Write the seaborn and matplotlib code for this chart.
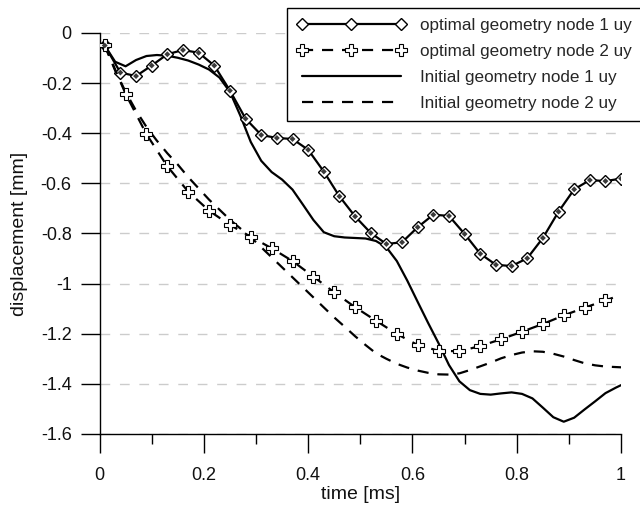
import matplotlib
matplotlib.use("Agg")
import matplotlib.pyplot as plt
import seaborn as sns
from matplotlib.ticker import MultipleLocator, FormatStrFormatter

# time axis [ms]
time_a = [0.01, 0.04, 0.07, 0.10, 0.13, 0.16, 0.19, 0.22, 0.25, 0.28, 0.31, 0.34,
          0.37, 0.40, 0.43, 0.46, 0.49, 0.52, 0.55, 0.58, 0.61, 0.64, 0.67, 0.70,
          0.73, 0.76, 0.79, 0.82, 0.85, 0.88, 0.91, 0.94, 0.97, 1.00]
time_b = [0.01, 0.05, 0.09, 0.13, 0.17, 0.21, 0.25, 0.29, 0.33, 0.37, 0.41, 0.45,
          0.49, 0.53, 0.57, 0.61, 0.65, 0.69, 0.73, 0.77, 0.81, 0.85, 0.89, 0.93,
          0.97, 1.00]
time_c = [0.01, 0.03, 0.05, 0.07, 0.09, 0.11, 0.13, 0.15, 0.17, 0.19, 0.21, 0.23,
          0.25, 0.27, 0.29, 0.31, 0.33, 0.35, 0.37, 0.39, 0.41, 0.43, 0.45, 0.47,
          0.49, 0.51, 0.53, 0.55, 0.57, 0.59, 0.61, 0.63, 0.65, 0.67, 0.69, 0.71,
          0.73, 0.75, 0.77, 0.79, 0.81, 0.83, 0.85, 0.87, 0.89, 0.91, 0.93, 0.95,
          0.97, 0.99, 1.00]

# displacement uy [mm]
opt_node1 = [-0.050, -0.158, -0.172, -0.130, -0.085, -0.068, -0.079, -0.130, -0.230,
             -0.342, -0.407, -0.419, -0.423, -0.466, -0.553, -0.652, -0.732, -0.798,
             -0.842, -0.835, -0.775, -0.725, -0.730, -0.802, -0.881, -0.925, -0.930,
             -0.899, -0.818, -0.713, -0.624, -0.587, -0.591, -0.581]
opt_node2 = [-0.050, -0.243, -0.404, -0.532, -0.633, -0.709, -0.766, -0.813, -0.859,
             -0.910, -0.972, -1.035, -1.094, -1.148, -1.201, -1.245, -1.268, -1.270,
             -1.249, -1.222, -1.192, -1.161, -1.127, -1.096, -1.067, -1.045]
init_node1 = [-0.050, -0.115, -0.133, -0.108, -0.092, -0.088, -0.091, -0.099, -0.110,
              -0.126, -0.146, -0.178, -0.235, -0.330, -0.435, -0.510, -0.555, -0.585,
              -0.625, -0.685, -0.746, -0.795, -0.811, -0.816, -0.818, -0.820, -0.830,
              -0.855, -0.910, -0.988, -1.073, -1.157, -1.238, -1.325, -1.390, -1.425,
              -1.440, -1.443, -1.438, -1.434, -1.440, -1.458, -1.495, -1.533, -1.551,
              -1.535, -1.502, -1.470, -1.437, -1.415, -1.405]
init_node2 = [-0.050, -0.150, -0.235, -0.310, -0.375, -0.430, -0.480, -0.525, -0.575,
              -0.620, -0.665, -0.705, -0.745, -0.780, -0.815, -0.855, -0.895, -0.935,
              -0.975, -1.015, -1.055, -1.095, -1.135, -1.172, -1.210, -1.245, -1.278,
              -1.300, -1.320, -1.335, -1.347, -1.356, -1.362, -1.363, -1.358, -1.345,
              -1.330, -1.315, -1.298, -1.285, -1.275, -1.270, -1.272, -1.280, -1.291,
              -1.305, -1.318, -1.326, -1.331, -1.333, -1.334]

labels = ["optimal geometry node 1 uy", "optimal geometry node 2 uy",
          "Initial geometry node 1 uy", "Initial geometry node 2 uy"]
x_ticks = [0, 0.2, 0.4, 0.6, 0.8, 1]
y_ticks = [0, -0.2, -0.4, -0.6, -0.8, -1, -1.2, -1.4, -1.6]

sns.set_style("white")
plt.rcParams["font.family"] = ["Liberation Sans", "DejaVu Sans"]
plt.rcParams["axes.unicode_minus"] = False

fig = plt.figure(figsize=(6.4, 5.07), dpi=100)
ax = fig.add_axes([0.1555, 0.144, 0.815, 0.791])

dash = (0, (5, 4))
sns.lineplot(x=time_a, y=opt_node1, ax=ax, color="black", lw=1.6,
             marker="D", markersize=6.3, markerfacecolor="white",
             markeredgecolor="black", markeredgewidth=1.0,
             label=labels[0], zorder=4)
sns.scatterplot(x=time_a, y=opt_node1, ax=ax, marker="D", s=9,
                color="#3a3a3a", edgecolor="none", zorder=5)
sns.lineplot(x=time_b, y=opt_node2, ax=ax, color="black", lw=1.6,
             linestyle=dash, marker="P", markersize=8,
             markerfacecolor="white", markeredgecolor="black",
             markeredgewidth=0.8, markevery=list(range(len(time_b) - 1)),
             label=labels[1], zorder=4)
sns.lineplot(x=time_c, y=init_node1, ax=ax, color="black", lw=1.6,
             label=labels[2], zorder=3)
sns.lineplot(x=time_c, y=init_node2, ax=ax, color="black", lw=1.6,
             linestyle=dash, label=labels[3], zorder=3)

ax.set_xlim(0, 1)
ax.set_ylim(-1.6, 0)
ax.set_xticks(x_ticks)
ax.set_yticks(y_ticks)
ax.xaxis.set_minor_locator(MultipleLocator(0.1))
ax.xaxis.set_major_formatter(FormatStrFormatter("%g"))
ax.yaxis.set_major_formatter(FormatStrFormatter("%g"))

for side in ("top", "right"):
    ax.spines[side].set_visible(False)
for side in ("left", "bottom"):
    ax.spines[side].set_linewidth(1.0)
    ax.spines[side].set_color("black")

ax.tick_params(axis="both", which="major", direction="out", length=14,
               width=1.0, color="black", labelsize=13, labelcolor="#111111",
               bottom=True, left=True)
ax.tick_params(axis="x", which="major", pad=10)
ax.tick_params(axis="y", which="major", pad=6)
ax.tick_params(axis="x", which="minor", direction="out", length=7,
               width=1.0, color="black", bottom=True)
ax.tick_params(axis="y", which="minor", left=False)

ax.set_axisbelow(True)
ax.yaxis.grid(True, color="#cccccc", linestyle=(0, (7, 7)), lw=1.0)
ax.xaxis.grid(False)

ax.set_xlabel("time [ms]", fontsize=14, labelpad=1, color="#111111")
ax.set_ylabel("displacement [mm]", fontsize=14, labelpad=9, color="#111111")

handles, labs = ax.get_legend_handles_labels()
leg = ax.legend(handles, labs, loc="upper left",
                bbox_to_anchor=(0.449, 0.984), bbox_transform=fig.transFigure,
                borderaxespad=0.0,
                fontsize=12.3, numpoints=3, handlelength=6.4, handletextpad=0.8,
                labelspacing=0.66, borderpad=0.55, frameon=True, fancybox=False,
                framealpha=1.0, edgecolor="black")
leg.get_frame().set_linewidth(1.0)
leg.set_zorder(10)

fig.savefig("out.png", dpi=100)
